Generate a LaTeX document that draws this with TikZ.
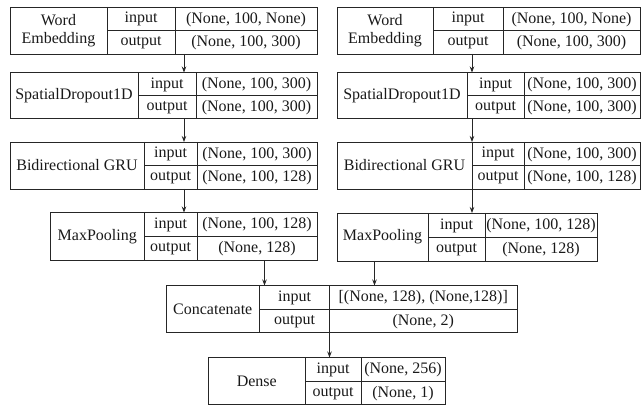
\documentclass[tikz,border=0pt]{standalone}
\usepackage{fontspec}
\setmainfont{Liberation Serif}
\newfontfamily\layerfont{Liberation Serif}
\usetikzlibrary{arrows.meta}

% one layer: #1 name, #2 left, #3 first divider, #4 second divider, #5 right,
% #6 top, #7 layer label, #8 input shape, #9 output shape; height in \blockh
\newcommand\blockh{47}
\newcommand\layerblock[9]{%
  \node[layerbox, minimum width={#5-#2}, minimum height={\blockh}, anchor=north west] (#1) at (#2,#6) {};
  \draw[rule] (#1.north -| #3,0) -- (#1.south -| #3,0);
  \draw[rule] (#1.north -| #4,0) -- (#1.south -| #4,0);
  \draw[rule] (#3,{#6+\blockh/2}) -- (#1.east |- 0,{#6+\blockh/2});
  \node[cell, align=center] (#1-name) at ({(#2+#3)/2},{#6+\blockh/2}) {#7};
  \node[cell] (#1-inkey)  at ({(#3+#4)/2},{#6+\blockh/4+0.5}) {input};
  \node[cell] (#1-outkey) at ({(#3+#4)/2},{#6+3*\blockh/4+0.5}) {output};
  \node[cell] (#1-inval)  at ({(#4+#5)/2},{#6+\blockh/4+0.5}) {#8};
  \node[cell] (#1-outval) at ({(#4+#5)/2},{#6+3*\blockh/4+0.5}) {#9};
}

\begin{document}
\begin{tikzpicture}[x=1pt, y=-1pt,
  layerbox/.style={draw=black!85, line width=0.9pt, inner sep=0pt, outer sep=0pt},
  rule/.style={draw=black!85, line width=0.9pt},
  cell/.style={inner sep=0pt, text=black!90, font=\layerfont\fontsize{16}{18.5}\selectfont},
  arr/.style={draw=black!85, line width=0.9pt, -{Stealth[length=6pt, width=4.5pt]}}]
\useasboundingbox (0,0) rectangle (641,406);

% left branch
\layerblock{weL}{10}{107}{175}{317}{7}{Word\\Embedding}{(None, 100, None)}{(None, 100, 300)}
\renewcommand\blockh{46}
\layerblock{sdL}{10}{138}{196}{317}{72.5}{SpatialDropout1D}{(None, 100, 300)}{(None, 100, 300)}
\renewcommand\blockh{47}
\layerblock{gruL}{10}{144}{197}{317}{142}{Bidirectional GRU}{(None, 100, 300)}{(None, 100, 128)}
\renewcommand\blockh{48}
\layerblock{mpL}{50.5}{144}{197}{317}{212.5}{MaxPooling}{(None, 100, 128)}{(None, 128)}

% right branch
\renewcommand\blockh{47}
\layerblock{weR}{337}{433}{503}{640}{7}{Word\\Embedding}{(None, 100, None)}{(None, 100, 300)}
\renewcommand\blockh{46}
\layerblock{sdR}{337}{467}{524}{640}{72.5}{SpatialDropout1D}{(None, 100, 300)}{(None, 100, 300)}
\renewcommand\blockh{47}
\layerblock{gruR}{337}{472}{524}{640}{142}{Bidirectional GRU}{(None, 100, 300)}{(None, 100, 128)}
\renewcommand\blockh{48}
\layerblock{mpR}{337}{428}{485}{597}{213}{MaxPooling}{(None, 100, 128)}{(None, 128)}

% merge and output
\renewcommand\blockh{47}
\layerblock{cat}{166}{259.5}{329.5}{517}{285.5}{Concatenate}{[(None, 128), (None,128)]}{(None, 2)}
\layerblock{dense}{208.5}{305}{361}{445}{357.5}{Dense}{(None, 256)}{(None, 1)}

% connector columns
\coordinate (colL) at (184,0);
\coordinate (colR) at (472,0);
\coordinate (colML) at (264.5,0);
\coordinate (colMR) at (374.5,0);
\coordinate (colD) at (329.5,0);

\draw[arr] (weL.south -| colL) -- (sdL.north -| colL);
\draw[arr] (sdL.south -| colL) -- (gruL.north -| colL);
\draw[arr] (gruL.south -| colL) -- (mpL.north -| colL);
\draw[arr] (weR.south -| colR) -- (sdR.north -| colR);
\draw[arr] (sdR.south -| colR) -- (gruR.north -| colR);
\draw[arr] (gruR.south -| colR) -- (mpR.north -| colR);
\draw[arr] (mpL.south -| colML) -- (cat.north -| colML);
\draw[arr] (mpR.south -| colMR) -- (cat.north -| colMR);
\draw[arr] (cat.south -| colD) -- (dense.north -| colD);
\end{tikzpicture}
\end{document}
